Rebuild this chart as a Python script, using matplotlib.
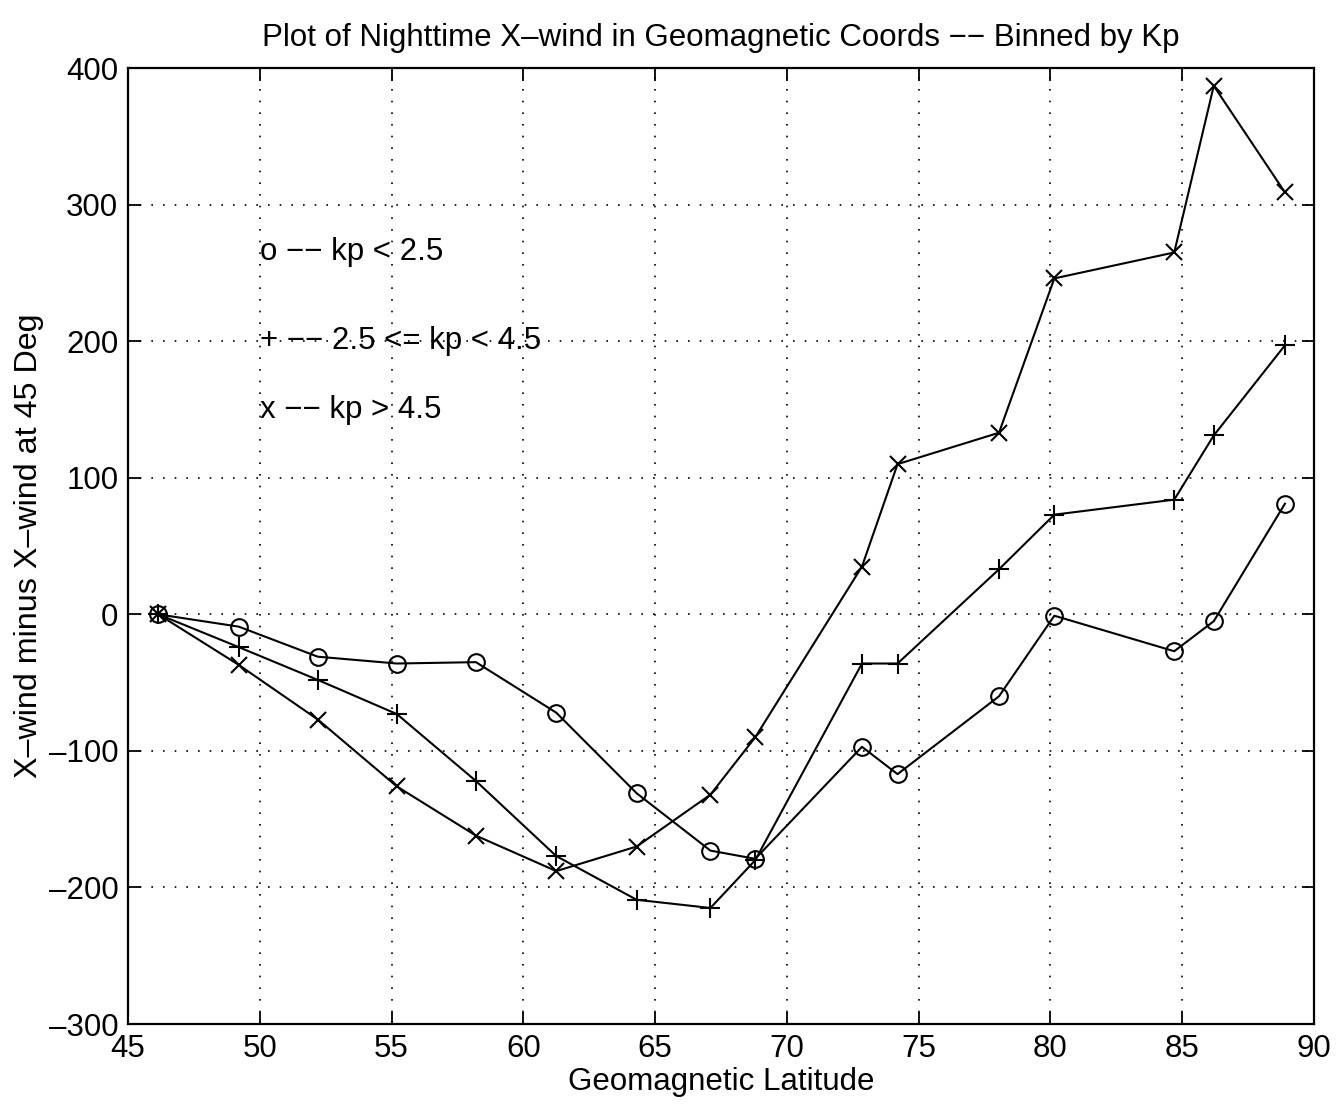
import matplotlib.pyplot as plt
import numpy as np

plt.rcParams['font.family'] = ['Liberation Sans', 'DejaVu Sans']
plt.rcParams['axes.unicode_minus'] = False

# geomagnetic latitude bins (deg)
lat = [46.15, 49.2, 52.2, 55.2, 58.2, 61.25, 64.3, 67.1, 68.8,
       72.85, 74.2, 78.05, 80.15, 84.7, 86.2, 88.9]

# x-wind minus x-wind at 45 deg, by Kp bin
kp_low = [0, -9, -31, -36, -35, -72, -131, -173, -179,
          -97, -117, -60, -1, -27, -5, 81]
kp_mid = [0, -24, -48, -73, -122, -177, -209, -215, -180,
          -36, -36, 33, 73, 84, 131, 197]
kp_high = [0, -37, -77, -126, -162, -188, -170, -132, -90,
           35, 110, 133, 246, 265, 387, 309]

xticks = [45, 50, 55, 60, 65, 70, 75, 80, 85, 90]
yticks = [-300, -200, -100, 0, 100, 200, 300, 400]
ytick_labels = ['\u2013300', '\u2013200', '\u2013100', '0', '100', '200', '300', '400']

fig = plt.figure(figsize=(13.38, 11.09), dpi=100)
ax = fig.add_axes([0.0957, 0.0766, 0.8863, 0.862])

ax.plot(lat, kp_low, color='black', lw=1.5, marker='o', ms=12,
        mfc='none', mec='black', mew=1.5)
ax.plot(lat, kp_mid, color='black', lw=1.5, marker='+', ms=15,
        mec='black', mew=1.5)
ax.plot(lat, kp_high, color='black', lw=1.5, marker='x', ms=12,
        mec='black', mew=1.5)

ax.set_xlim(45, 90)
ax.set_ylim(-300, 400)
ax.set_xticks(xticks)
ax.set_yticks(yticks)
ax.set_yticklabels(ytick_labels)
ax.grid(True, color='black', linestyle=(0, (1, 6)), linewidth=1.2)

ax.tick_params(direction='in', top=True, right=True, length=9, width=1.3,
               labelsize=22.5, pad=7)
for s in ax.spines.values():
    s.set_linewidth(1.6)

fs = 22.5
dash = '\u2212\u2212'
ax.text(50, 265, 'o ' + dash + ' kp < 2.5', fontsize=fs, va='center')
ax.text(50, 200, '+ ' + dash + ' 2.5 <= kp < 4.5', fontsize=fs, va='center')
ax.text(50, 150, 'x ' + dash + ' kp > 4.5', fontsize=fs, va='center')

ax.set_title('Plot of Nighttime X\u2013wind in Geomagnetic Coords ' + dash + ' Binned by Kp',
             fontsize=fs, pad=16)
ax.set_xlabel('Geomagnetic Latitude', fontsize=fs, labelpad=2)
ax.set_ylabel('X\u2013wind minus X\u2013wind at 45 Deg', fontsize=23.2, labelpad=3)

fig.savefig('out.png', dpi=100)
